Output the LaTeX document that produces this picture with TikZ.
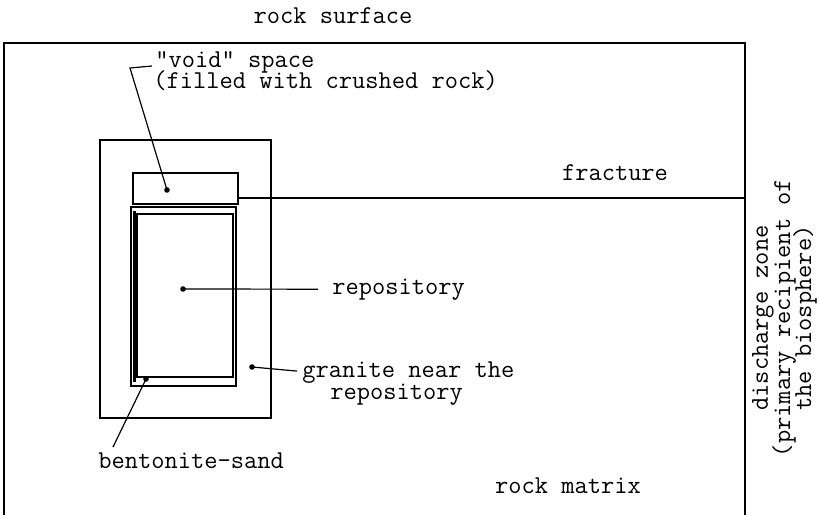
\documentclass[tikz,border=0pt]{standalone}
\usepackage{fontspec}
\begin{document}
\begin{tikzpicture}[x=0.5pt,y=-0.5pt,
  lbl/.style={inner sep=0pt, font=\ttfamily\fontsize{12.86}{9.5}\selectfont},
  upper/.style={text depth=0pt},
  box/.style={line width=0.9pt},
  leader/.style={line width=0.6pt},
  dotm/.style={fill=black, circle, inner sep=0pt, minimum size=2.8pt}
]
\useasboundingbox (0,0) rectangle (819,515);
% outer rock region (open at the bottom)
\draw[box] (4,515) -- (4,43) -- (745,43) -- (745,515);
% granite near the repository
\draw[box] (100,140) rectangle (271,418);
% void space box
\draw[box] (133,173) rectangle (238,204);
% bentonite-sand box and repository
\draw[box] (131,207) rectangle (236,386);
\draw[box] (137,214) rectangle (233,377);
\draw[line width=1.1pt] (134.5,211) -- (134.5,382);
% fracture
\coordinate (fracA) at (238,198);
\coordinate (fracB) at (745,198);
\draw[line width=1.4pt] (fracA) -- (fracB);

% labels
\node[lbl, anchor=base] (surf) at (333,23) {rock surface};
\node[lbl, upper, anchor=base west] (void1) at (155,67) {\symbol{34}void\symbol{34} space};
\node[lbl, anchor=base west] (void2) at (153,88) {(filled with crushed rock)};
\node[lbl, anchor=base] (frac) at (615,180) {fracture};
\node[lbl, anchor=base west] (rep) at (332,294) {repository};
\node[lbl, upper, anchor=base west] (gran1) at (302,377) {granite near the};
\node[lbl, anchor=base west] (gran2) at (330,399) {repository};
\node[lbl, anchor=base west] (bent) at (98,468) {bentonite-sand};
\node[lbl, anchor=base] (matrix) at (568,493) {rock matrix};
\node[lbl, rotate=90] (dz1) at (763,318) {discharge zone};
\node[lbl, rotate=90] (dz2) at (784,318) {(primary recipient of};
\node[lbl, rotate=90] (dz3) at (805,318) {the biosphere)};

% dots
\node[dotm] (dvoid) at (167,190) {};
\node[dotm] (drep) at (183,289) {};
\node[dotm] (dgran) at (252,367) {};
\node[dotm] (dbent) at (146,379) {};
\coordinate (vkink) at (130,68);
\coordinate (bentend) at (113,447);

% leaders
\draw[leader] (dvoid.center) -- (vkink) -- ([xshift=-1.5pt,yshift=0.5pt]void1.base west);
\draw[leader, shorten >=7pt] (drep.center) -- (rep.west);
\draw[leader, shorten >=2.5pt] (dgran.center) -- ([yshift=-1.2pt]gran1.west);
\draw[leader] (dbent.center) -- (bentend);
\end{tikzpicture}
\end{document}
